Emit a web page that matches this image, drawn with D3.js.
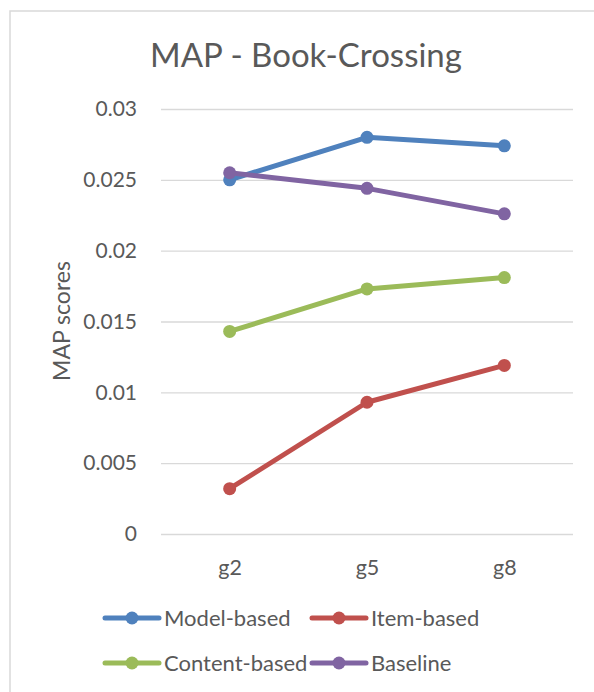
<!DOCTYPE html>
<html>
<head>
<meta charset="utf-8">
<script src="https://cdn.jsdelivr.net/npm/d3@7"></script>
<style>
  html, body { margin: 0; padding: 0; background: #ffffff; }
  svg { display: block; }
  text { font-family: Lato, "Open Sans", sans-serif; fill: #595959; }
</style>
</head>
<body>
<svg id="chart" width="594" height="692"></svg>
<script>
// MAP scores per recommender, grouped by g-level
const categories = ["g2", "g5", "g8"];
const seriesNames = ["Model-based", "Item-based", "Content-based", "Baseline"];
const modelBased = [0.0250, 0.0280, 0.0274];
const itemBased = [0.0032, 0.0093, 0.0119];
const contentBased = [0.0143, 0.0173, 0.0181];
const baseline = [0.0255, 0.0244, 0.0226];
const yTicks = [0, 0.005, 0.01, 0.015, 0.02, 0.025, 0.03];
const seriesColors = ["#4F81BD", "#C0504D", "#9BBB59", "#8064A2"];

const series = [modelBased, itemBased, contentBased, baseline].map((vals, i) => ({
  name: seriesNames[i],
  color: seriesColors[i],
  values: vals.map((v, j) => ({ cat: categories[j], v }))
}));

const svg = d3.select("#chart");

// outer chart frame
svg.append("rect")
  .attr("x", 10).attr("y", 11)
  .attr("width", 620).attr("height", 720)
  .attr("fill", "none")
  .attr("stroke", "#D9D9D9")
  .attr("stroke-width", 1.5);

const x = d3.scalePoint().domain(categories).range([161, 573]).padding(0.5);
const y = d3.scaleLinear().domain([0, 0.03]).range([534, 109]);

// title
svg.append("text")
  .attr("x", 306).attr("y", 67)
  .attr("text-anchor", "middle")
  .style("font-size", "33px")
  .text("MAP - Book-Crossing");

// gridlines + y tick labels
const yAxis = d3.axisLeft(y)
  .tickValues(yTicks)
  .tickFormat(d => d3.format("")(+d.toFixed(3)))
  .tickSize(-(573 - 161))
  .tickPadding(24);
const gy = svg.append("g").attr("transform", "translate(161,0)").call(yAxis);
gy.select(".domain").remove();
gy.selectAll(".tick line").attr("stroke", "#D9D9D9").attr("stroke-width", 1.3);
gy.selectAll(".tick text")
  .attr("fill", "#595959")
  .style("font-family", "Lato, sans-serif")
  .style("font-size", "21px");

// x labels
const xAxis = d3.axisBottom(x).tickSize(0).tickPadding(0);
const gx = svg.append("g").attr("transform", "translate(0,534)").call(xAxis);
gx.select(".domain").remove();
gx.selectAll(".tick text")
  .attr("y", 41).attr("dy", 0)
  .attr("fill", "#595959")
  .style("font-family", "Lato, sans-serif")
  .style("font-size", "21.5px");

// y axis title
svg.append("text")
  .attr("transform", "translate(70,321) rotate(-90)")
  .attr("text-anchor", "middle")
  .style("font-size", "23px")
  .text("MAP scores");

// series lines and markers
const line = d3.line().x(d => x(d.cat)).y(d => y(d.v));
const gs = svg.append("g").selectAll("g").data(series).join("g");
gs.append("path")
  .attr("d", d => line(d.values))
  .attr("fill", "none")
  .attr("stroke", d => d.color)
  .attr("stroke-width", 5)
  .attr("stroke-linejoin", "round");
gs.selectAll("circle").data(d => d.values.map(p => ({ ...p, color: d.color }))).join("circle")
  .attr("cx", d => x(d.cat))
  .attr("cy", d => y(d.v))
  .attr("r", 6.5)
  .attr("fill", d => d.color);

// legend, two rows of two
const legCols = [105, 312];
const legRows = [618, 663];
const leg = svg.append("g").selectAll("g").data(series).join("g")
  .attr("transform", (d, i) => `translate(${legCols[i % 2]},${legRows[Math.floor(i / 2)]})`);
leg.append("line")
  .attr("x1", 0).attr("x2", 54).attr("y1", 0).attr("y2", 0)
  .attr("stroke", d => d.color).attr("stroke-width", 5).attr("stroke-linecap", "round");
leg.append("circle").attr("cx", 27).attr("cy", 0).attr("r", 6.5).attr("fill", d => d.color);
leg.append("text")
  .attr("x", 59).attr("y", 0).attr("dy", "0.35em")
  .style("font-size", "22px")
  .text(d => d.name);
</script>
</body>
</html>
